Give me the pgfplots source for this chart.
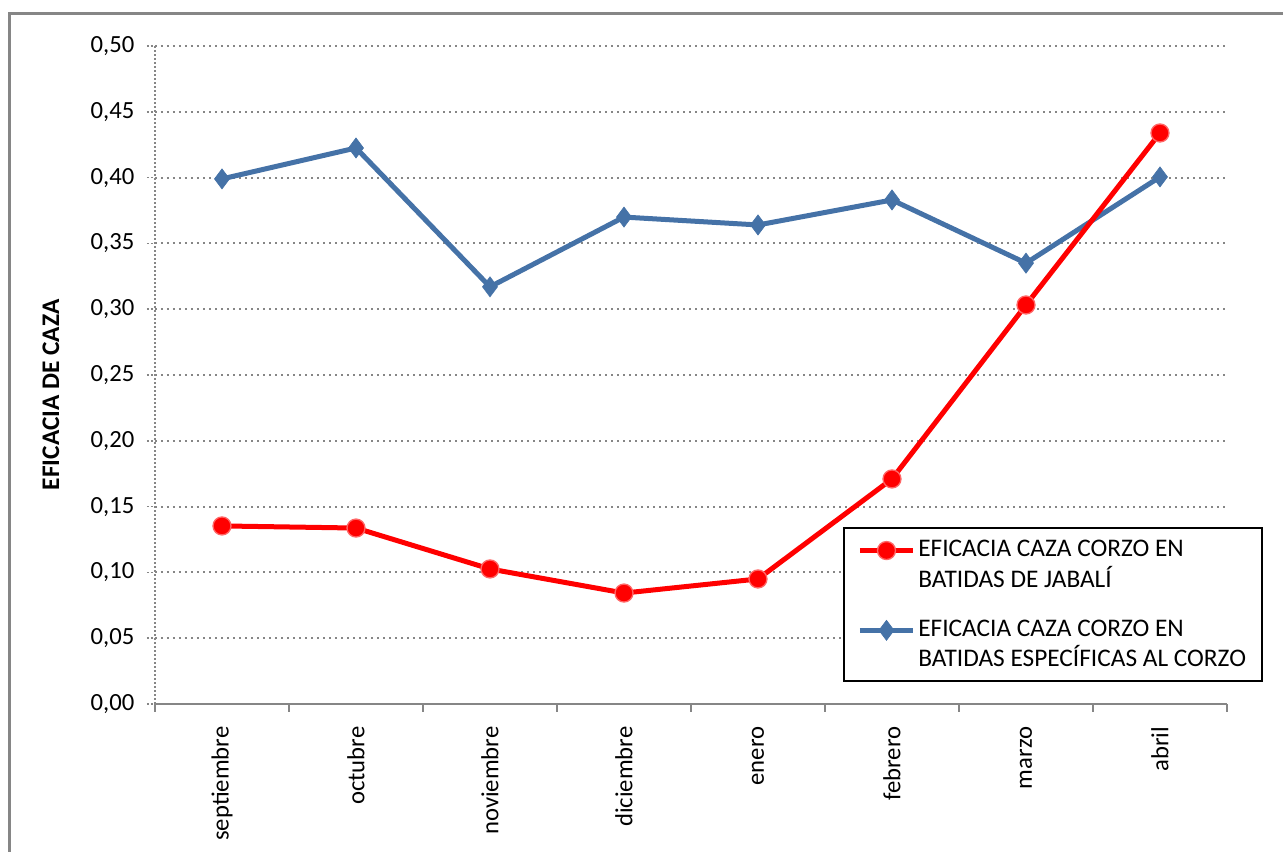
\documentclass[border=0pt]{standalone}
\usepackage{pgfplots}
\pgfplotsset{compat=1.18}
\usepackage{fontspec}
\setmainfont{Carlito}
\definecolor{exred}{RGB}{255,0,0}
\definecolor{exblue}{RGB}{69,114,167}
\definecolor{axgray}{RGB}{134,134,134}
\begin{document}
\begin{tikzpicture}[x=0.75pt,y=0.75pt]
\useasboundingbox (0,0) rectangle (1283,852);
\draw[axgray, line width=2.25pt] (9,0) -- (9,838) -- (1283,838);
\begin{axis}[
 at={(116.25pt,111pt)}, anchor=south west,
 scale only axis, width=804pt, height=493.5pt,
 xmin=-0.5, xmax=7.5, ymin=0, ymax=0.5,
 clip=false,
 axis x line*=bottom, axis y line*=left,
 x axis line style={axgray, line width=1.5pt, -},
 y axis line style={axgray, line width=1.2pt, dash pattern=on 1.2pt off 1.8pt, -},
 tick align=outside,
 major tick length=6pt,
 xtick={0,1,2,3,4,5,6,7},
 xticklabels={septiembre,octubre,noviembre,diciembre,enero,febrero,marzo,abril},
 xticklabel style={rotate=90, anchor=east, xshift=-7.5pt, font=\fontsize{18.5}{21}\selectfont},
 xtick style={draw=none},
 extra x ticks={-0.5,0.5,1.5,2.5,3.5,4.5,5.5,6.5,7.5},
 extra x tick labels={},
 extra x tick style={xtick style={draw=axgray, line width=1.5pt}},
 ytick={0,0.05,0.1,0.15,0.2,0.25,0.3,0.35,0.4,0.45,0.5},
 ytick style={axgray, line width=1.2pt, dash pattern=on 1.2pt off 1.8pt},
 yticklabel style={xshift=-6pt, font=\fontsize{18.5}{21}\selectfont},
 /pgf/number format/.cd, fixed, fixed zerofill, precision=2, use comma, assume math mode=true,
 /pgfplots/.cd,
 ymajorgrids,
 grid style={axgray, line width=1.5pt, dash pattern=on 1.5pt off 3pt},
 ylabel={EFICACIA DE CAZA},
 ylabel style={font=\bfseries\fontsize{19}{22}\selectfont, at={(axis description cs:-0.097,0.47)}, anchor=center},
 legend style={at={(axis description cs:0.6418,0.269)}, anchor=north west, draw=black, line width=1.5pt,
   font=\fontsize{19}{23}\selectfont, cells={anchor=west, align=left}, row sep=19pt, inner xsep=10pt, inner ysep=7pt},
 legend image code/.code={\draw[mark repeat=2, mark phase=2, yshift=10.5pt] plot coordinates {(0pt,0pt) (20pt,0pt) (40pt,0pt)};},
 reverse legend,
]
\addplot[exblue, line width=3.75pt, mark=diamond*, mark size=7.5pt,
  mark options={solid, fill=exblue, draw=exblue, line width=0.5pt}]
  coordinates {(0,0.399)(1,0.4225)(2,0.317)(3,0.370)(4,0.364)(5,0.383)(6,0.335)(7,0.4005)};
\addlegendentry{EFICACIA CAZA CORZO EN\\BATIDAS ESPECÍFICAS AL CORZO}
\addplot[exred, line width=3.75pt, mark=*, mark size=6.75pt,
  mark options={solid, fill=exred, draw=exred!60!white, line width=1pt}]
  coordinates {(0,0.1353)(1,0.1337)(2,0.1026)(3,0.0843)(4,0.095)(5,0.171)(6,0.3032)(7,0.4339)};
\addlegendentry{EFICACIA CAZA CORZO EN\\BATIDAS DE JABALÍ}
\end{axis}
\end{tikzpicture}
\end{document}
